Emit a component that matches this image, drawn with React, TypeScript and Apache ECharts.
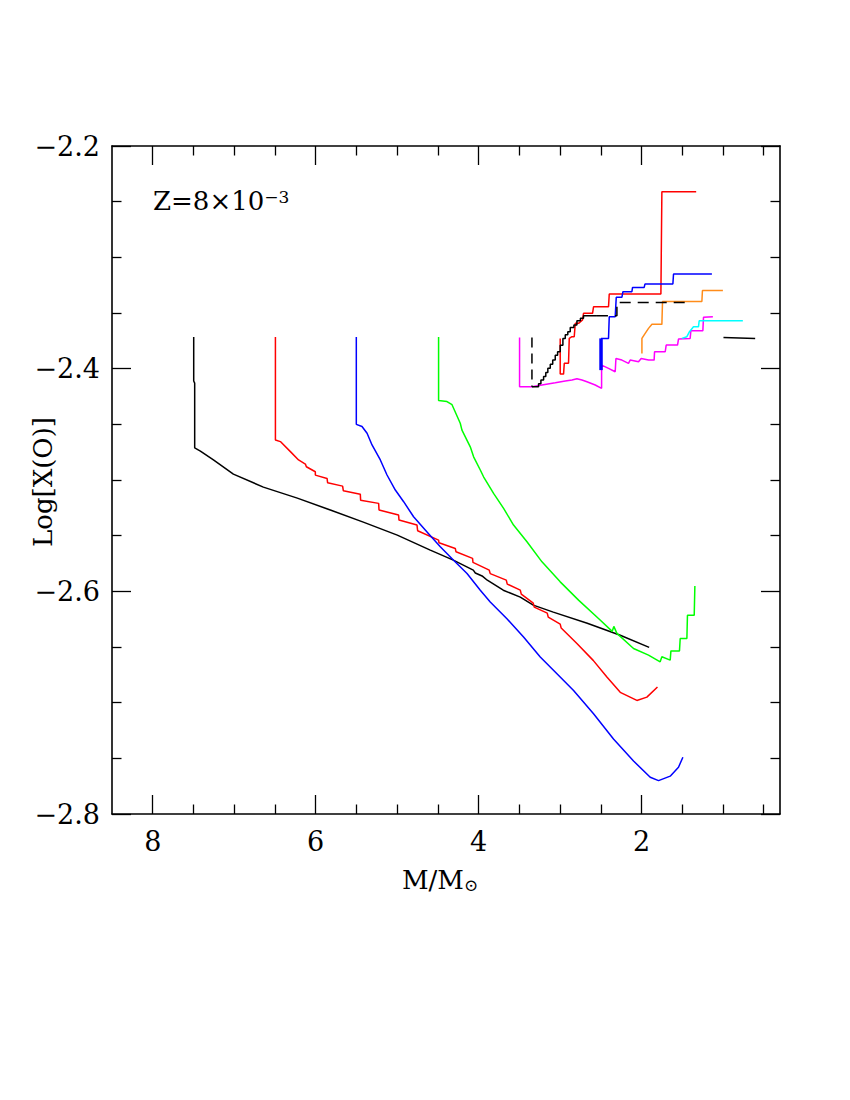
import React, { useEffect, useRef } from "react";
import * as echarts from "echarts";

// ---------- axis ticks ----------
const xMajorTicks = [2, 4, 6, 8];
const xMinorTicks = [0.5, 1, 1.5, 2.5, 3, 3.5, 4.5, 5, 5.5, 6.5, 7, 7.5];
const xMin = 0.3;
const xMax = 8.5;
const yMin = -2.8;
const yMax = -2.2;
const yStep = 0.2;

// ---------- main tracks ----------
const black75 = [
  [7.497, -2.3716], [7.497, -2.4111], [7.485, -2.413], [7.485, -2.4711], [7.415, -2.474],
  [7.255, -2.482], [7.01, -2.4947], [6.642, -2.5064], [6.225, -2.5163], [5.82, -2.527],
  [5.415, -2.5378], [4.998, -2.5495], [4.593, -2.563], [4.31, -2.572], [4.065, -2.581],
  [4.04, -2.5835], [3.95, -2.5865], [3.893, -2.59], [3.697, -2.599], [3.488, -2.6052],
  [3.329, -2.6124], [3.083, -2.6187], [2.666, -2.6286], [2.261, -2.6395], [1.906, -2.6503],
];

const red65 = [
  [6.494, -2.3716], [6.494, -2.464], [6.433, -2.4655], [6.31, -2.4745], [6.21, -2.482],
  [6.126, -2.4857], [6.114, -2.4881], [6.004, -2.4926], [6.004, -2.4956], [5.86, -2.4986],
  [5.853, -2.5025], [5.669, -2.5055], [5.66, -2.5097], [5.452, -2.5127], [5.448, -2.5181],
  [5.227, -2.521], [5.222, -2.527], [4.982, -2.5315], [4.977, -2.536], [4.756, -2.5405],
  [4.748, -2.5456], [4.491, -2.554], [4.486, -2.5564], [4.286, -2.5615], [4.277, -2.5645],
  [4.074, -2.5704], [4.069, -2.574], [3.869, -2.581], [3.857, -2.5841], [3.66, -2.5899],
  [3.648, -2.5935], [3.488, -2.5989], [3.476, -2.6025], [3.329, -2.6106], [3.317, -2.6142],
  [3.157, -2.6196], [3.145, -2.6232], [2.998, -2.6294], [2.986, -2.633], [2.793, -2.6468],
  [2.593, -2.662], [2.425, -2.677], [2.261, -2.6907], [2.057, -2.698], [1.934, -2.695],
  [1.804, -2.686],
];

const blue55 = [
  [5.501, -2.3716], [5.501, -2.45], [5.431, -2.452], [5.369, -2.458], [5.308, -2.4685],
  [5.206, -2.482], [5.124, -2.4955], [5.022, -2.509], [4.92, -2.5195], [4.798, -2.533],
  [4.633, -2.5466], [4.47, -2.56], [4.307, -2.572], [4.142, -2.584], [3.979, -2.599],
  [3.857, -2.6096], [3.652, -2.6246], [3.448, -2.641], [3.243, -2.659], [3.038, -2.674],
  [2.834, -2.689], [2.589, -2.71], [2.344, -2.7327], [2.098, -2.7524], [1.893, -2.767],
  [1.791, -2.77], [1.648, -2.766], [1.546, -2.758], [1.492, -2.749],
];

const green45 = [
  [4.491, -2.3716], [4.491, -2.4286], [4.388, -2.4295], [4.326, -2.4324], [4.225, -2.449],
  [4.204, -2.4552], [4.102, -2.4702], [4.061, -2.4792], [3.979, -2.491], [3.939, -2.4971],
  [3.816, -2.512], [3.693, -2.5255], [3.571, -2.5405], [3.406, -2.5555], [3.222, -2.5735],
  [2.998, -2.5915], [2.773, -2.6079], [2.528, -2.6244], [2.36, -2.636], [2.34, -2.6315],
  [2.302, -2.6378], [2.098, -2.6513], [1.914, -2.6573], [1.771, -2.6633], [1.75, -2.6588],
  [1.648, -2.6618], [1.639, -2.6535], [1.534, -2.6535], [1.525, -2.6423], [1.443, -2.6423],
  [1.436, -2.6214], [1.353, -2.6214], [1.345, -2.5953],
];

// ---------- upper-right cluster ----------
const magentaLow = [
  [3.497, -2.3719], [3.497, -2.4163], [3.345, -2.4163], [3.222, -2.4147], [3.059, -2.4127],
  [2.936, -2.4111], [2.854, -2.4102], [2.793, -2.4091], [2.731, -2.4102], [2.67, -2.4118],
  [2.568, -2.4147], [2.49, -2.4177], [2.49, -2.3968], [2.405, -2.3997], [2.323, -2.4028],
  [2.314, -2.3908], [2.241, -2.3923], [2.16, -2.3952], [2.139, -2.3923], [2.037, -2.3938],
  [2.004, -2.3908], [1.914, -2.3923], [1.845, -2.3923], [1.84, -2.3848], [1.709, -2.3848],
  [1.697, -2.3788], [1.558, -2.3788], [1.546, -2.3734], [1.403, -2.3728], [1.394, -2.3659],
  [1.247, -2.3659], [1.239, -2.3539], [1.124, -2.3534],
];

const cyanTrack = [
  [1.504, -2.3728], [1.443, -2.3713], [1.411, -2.3668], [1.362, -2.3624], [1.301, -2.3624],
  [1.292, -2.357], [0.756, -2.357],
];

const orangeTrack = [
  [1.995, -2.3863], [1.995, -2.3728], [1.955, -2.3683], [1.914, -2.3638], [1.872, -2.3602],
  [1.75, -2.3602], [1.742, -2.3397], [1.259, -2.3397], [1.252, -2.3298], [1.001, -2.3298],
];

const blueStem = [[2.497, -2.4013], [2.497, -2.3728]];
const blueTrack = [
  [2.497, -2.3728], [2.405, -2.3728], [2.396, -2.3534], [2.323, -2.3534], [2.31, -2.3359],
  [2.241, -2.3359], [2.228, -2.3309], [2.118, -2.3309], [2.11, -2.327], [1.967, -2.327],
  [1.958, -2.324], [1.615, -2.324], [1.607, -2.315], [1.136, -2.315],
];

const redTrack = [
  [2.998, -2.3728], [2.998, -2.4049], [2.957, -2.4049], [2.948, -2.3952], [2.896, -2.3952],
  [2.887, -2.3728], [2.854, -2.3713], [2.826, -2.3713], [2.813, -2.3593], [2.773, -2.3593],
  [2.724, -2.3563], [2.712, -2.3503], [2.601, -2.3503], [2.589, -2.3444], [2.405, -2.3444],
  [2.396, -2.333], [1.762, -2.333], [1.75, -2.2411], [1.329, -2.2411],
];

const blackStairs = [
  [3.345, -2.4163], [3.264, -2.4163], [3.235, -2.4135], [3.202, -2.4102], [3.175, -2.407],
  [3.15, -2.4035], [3.12, -2.3997], [3.09, -2.396], [3.059, -2.3923], [3.03, -2.388],
  [2.998, -2.3848], [2.965, -2.379], [2.936, -2.3728], [2.905, -2.3695], [2.875, -2.3668],
  [2.83, -2.363], [2.793, -2.3608], [2.75, -2.357], [2.712, -2.3548], [2.67, -2.3525],
  [2.547, -2.3525],
];
const blackDashV = [[3.345, -2.3719], [3.345, -2.4163]];
const blackDashH = [[2.547, -2.3525], [2.302, -2.3525], [2.302, -2.3406], [1.423, -2.3406]];
const blackShort = [[0.994, -2.3719], [0.605, -2.3728]];

const FONT = "DejaVu Serif";

function line(data: number[][], color: string, extra: any = {}) {
  return {
    type: "line",
    data,
    xAxisIndex: 0,
    yAxisIndex: 0,
    showSymbol: false,
    symbol: "none",
    silent: true,
    clip: true,
    ...extra,
    lineStyle: { color, width: 1.5, ...(extra.lineStyle || {}) },
  };
}

export default function App() {
  const ref = useRef<HTMLDivElement>(null);
  useEffect(() => {
    const chart = echarts.init(ref.current!, null, { renderer: "svg" });
    const frameLine = { show: true, lineStyle: { color: "#000", width: 1.6 } };
    const gridBox = { left: 112, right: 70, top: 146, bottom: 286 };
    const tickStyle = { color: "#000", width: 1.3 };
    const option: any = {
      animation: false,
      backgroundColor: "#fff",
      grid: [
        { ...gridBox, containLabel: false },
        { ...gridBox, containLabel: false },
      ],
      xAxis: [
        {
          gridIndex: 0, type: "value", position: "bottom", min: xMin, max: xMax, inverse: true,
          axisLine: frameLine,
          axisTick: { show: true, inside: true, length: 19, customValues: xMajorTicks, lineStyle: tickStyle },
          axisLabel: { show: true, customValues: xMajorTicks, margin: 14, fontSize: 27, fontFamily: FONT, color: "#000" },
          splitLine: { show: false },
        },
        {
          gridIndex: 0, type: "value", position: "top", min: xMin, max: xMax, inverse: true,
          axisLine: frameLine,
          axisTick: { show: true, inside: true, length: 19, customValues: xMajorTicks, lineStyle: tickStyle },
          axisLabel: { show: false },
          splitLine: { show: false },
        },
        {
          gridIndex: 1, type: "value", position: "bottom", min: xMin, max: xMax, inverse: true,
          axisLine: { show: false },
          axisTick: { show: true, inside: true, length: 9.5, customValues: xMinorTicks, lineStyle: tickStyle },
          axisLabel: { show: false },
          splitLine: { show: false },
        },
        {
          gridIndex: 1, type: "value", position: "top", min: xMin, max: xMax, inverse: true,
          axisLine: { show: false },
          axisTick: { show: true, inside: true, length: 9.5, customValues: xMinorTicks, lineStyle: tickStyle },
          axisLabel: { show: false },
          splitLine: { show: false },
        },
      ],
      yAxis: [
        {
          gridIndex: 0, type: "value", position: "left", min: yMin, max: yMax, interval: yStep,
          axisLine: frameLine,
          axisTick: { show: true, inside: true, length: 19, lineStyle: tickStyle },
          minorTick: { show: true, splitNumber: 4, length: 9.5, lineStyle: tickStyle },
          axisLabel: {
            show: true, margin: 12, fontSize: 27, fontFamily: FONT, color: "#000",
            formatter: (v: number) => v.toFixed(1).replace("-", "\u2212"),
          },
          splitLine: { show: false },
          minorSplitLine: { show: false },
        },
        {
          gridIndex: 0, type: "value", position: "right", min: yMin, max: yMax, interval: yStep,
          axisLine: frameLine,
          axisTick: { show: true, inside: true, length: 19, lineStyle: tickStyle },
          minorTick: { show: true, splitNumber: 4, length: 9.5, lineStyle: tickStyle },
          axisLabel: { show: false },
          splitLine: { show: false },
          minorSplitLine: { show: false },
        },
        { gridIndex: 1, type: "value", min: yMin, max: yMax, show: false },
      ],
      series: [
        line(black75, "#000000"),
        line(red65, "#ff0000"),
        line(blue55, "#0000ff"),
        line(green45, "#00ff00"),
        line(magentaLow, "#ff00ff"),
        line(cyanTrack, "#00ffff"),
        line(orangeTrack, "#ff8c1a"),
        line(redTrack, "#ff0000"),
        line(blueTrack, "#0000ff"),
        line(blueStem, "#0000ff", { lineStyle: { width: 3.5 } }),
        line(blackStairs, "#000000", { step: "start" }),
        line(blackDashV, "#000000", { lineStyle: { type: [10, 6] } }),
        line(blackDashH, "#000000", { lineStyle: { type: [11, 7] } }),
        line(blackShort, "#000000"),
      ],
      graphic: [
        {
          type: "text", left: 153, top: 188,
          style: {
            text: "Z=8\u00d710{sup|\u22123}",
            font: `26px "${FONT}"`, fill: "#000",
            rich: { sup: { fontSize: 17, fontFamily: FONT, verticalAlign: "top", fill: "#000" } },
          },
        },
        {
          type: "text", x: 440, y: 880,
          style: {
            text: "M/M{sub|\u2299}", align: "center", verticalAlign: "middle",
            font: `26px "${FONT}"`, fill: "#000",
            rich: { sub: { fontSize: 17, fontFamily: FONT, verticalAlign: "bottom", fill: "#000" } },
          },
        },
        {
          type: "text", x: 43, y: 482, rotation: Math.PI / 2,
          style: {
            text: "Log[X(O)]", align: "center", verticalAlign: "middle",
            font: `26px "${FONT}"`, fill: "#000",
          },
        },
      ],
    };
    chart.setOption(option);
    return () => chart.dispose();
  }, []);
  return (
    <div
      ref={ref}
      style={{ position: "absolute", left: 0, top: 0, width: 850, height: 1100, background: "#fff" }}
    />
  );
}
